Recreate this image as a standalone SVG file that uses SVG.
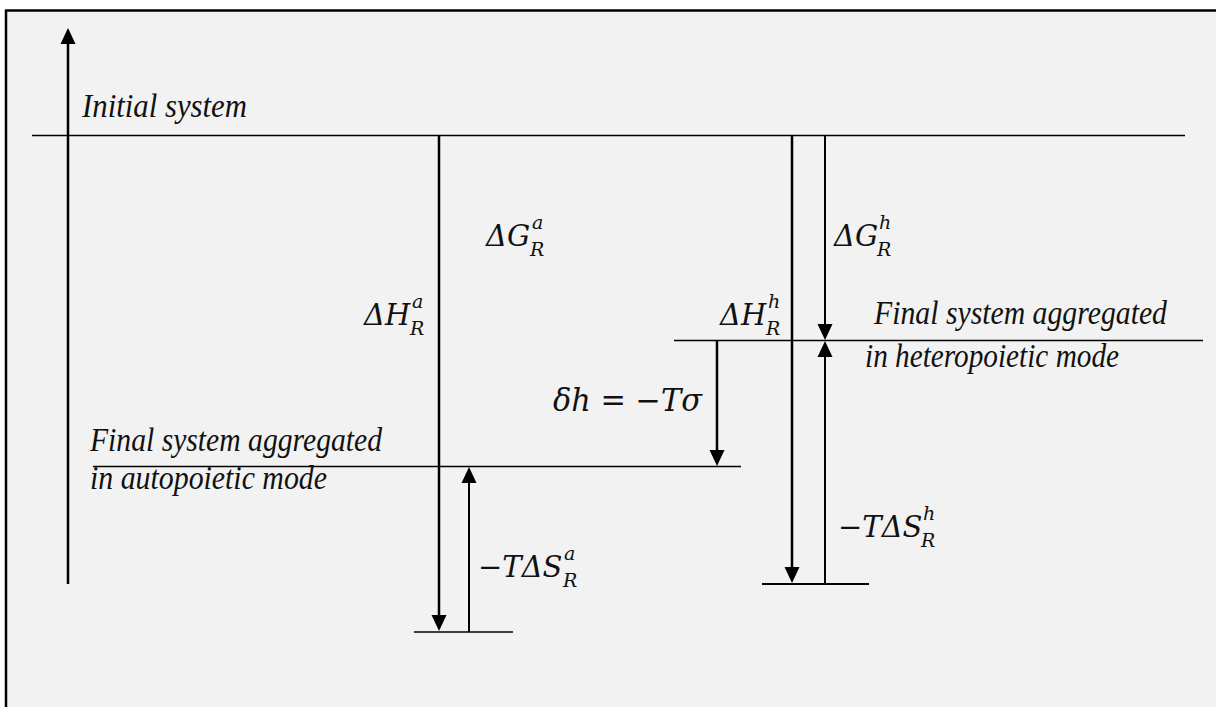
<svg xmlns="http://www.w3.org/2000/svg" width="1216" height="707" viewBox="0 0 1216 707">
<style>
.lbl{font-family:"Liberation Serif","Times New Roman",serif;font-style:italic;font-size:33px;fill:#111}
.m{font-family:"DejaVu Serif","Liberation Serif",serif;font-style:italic;font-size:29px;fill:#111}
.s{font-size:19px}
.lvl{stroke:#000;stroke-width:1.3;fill:none}
.arr{stroke:#000;stroke-width:2.5;fill:none;marker-end:url(#ah)}
.arr2{stroke:#000;stroke-width:2;fill:none;marker-end:url(#ah)}
</style>
<defs>
<marker id="ah" markerUnits="userSpaceOnUse" markerWidth="16" markerHeight="16" viewBox="0 0 16 16" refX="8" refY="8" orient="auto">
<path d="M0,0.5 L16,8 L0,15.5 Z" fill="#000"/>
</marker>
</defs>
<rect x="0" y="0" width="1216" height="707" fill="#fff"/>
<rect x="7" y="11" width="1209" height="696" fill="#f2f2f2"/>
<g id="frame" stroke="#000" stroke-width="2.5">
<line x1="5" y1="10.5" x2="1216" y2="10.5"/>
<line x1="6" y1="10" x2="6" y2="707"/>
</g>
<g id="levels">
<line class="lvl" x1="32" y1="135.5" x2="1185" y2="135.5"/>
<line class="lvl" x1="674" y1="340.5" x2="1203" y2="340.5"/>
<line class="lvl" x1="93" y1="466.5" x2="741" y2="466.5"/>
<line class="lvl" x1="414" y1="632" x2="513" y2="632"/>
<line x1="762" y1="584" x2="869" y2="584" stroke="#000" stroke-width="2"/>
</g>
<g id="connectors">
<line class="arr" x1="68" y1="584" x2="68" y2="36"/>
<line class="arr" x1="439" y1="135" x2="439" y2="623"/>
<line class="arr2" x1="469" y1="632" x2="469" y2="475"/>
<line class="arr" x1="717" y1="340" x2="717" y2="458"/>
<line class="arr" x1="792" y1="135" x2="792" y2="575"/>
<line class="arr2" x1="825" y1="136" x2="825" y2="332"/>
<line class="arr2" x1="825" y1="584" x2="825" y2="349"/>
</g>
<g id="initial">
<text class="lbl" x="82" y="117" textLength="165" lengthAdjust="spacingAndGlyphs">Initial system</text>
</g>
<g id="auto-final">
<text class="lbl" x="90" y="451" textLength="292" lengthAdjust="spacingAndGlyphs">Final system aggregated</text>
<text class="lbl" x="90" y="489" textLength="237" lengthAdjust="spacingAndGlyphs">in autopoietic mode</text>
</g>
<g id="hetero-final">
<text class="lbl" x="874" y="324" textLength="293" lengthAdjust="spacingAndGlyphs">Final system aggregated</text>
<text class="lbl" x="865" y="367" textLength="254" lengthAdjust="spacingAndGlyphs">in heteropoietic mode</text>
</g>
<g id="dGa">
<text class="m"><tspan x="486" y="246">ΔG</tspan><tspan class="s" x="532" y="229">a</tspan><tspan class="s" x="530" y="256">R</tspan></text>
</g>
<g id="dHa">
<text class="m"><tspan x="364" y="325">ΔH</tspan><tspan class="s" x="412" y="308">a</tspan><tspan class="s" x="410" y="335">R</tspan></text>
</g>
<g id="dGh">
<text class="m"><tspan x="834" y="246">ΔG</tspan><tspan class="s" x="879" y="229">h</tspan><tspan class="s" x="877" y="256">R</tspan></text>
</g>
<g id="dHh">
<text class="m"><tspan x="720" y="325">ΔH</tspan><tspan class="s" x="768" y="308">h</tspan><tspan class="s" x="766" y="335">R</tspan></text>
</g>
<g id="dh">
<text class="m" x="553" y="411" textLength="149" lengthAdjust="spacingAndGlyphs" style="font-size:31px">δh = −Tσ</text>
</g>
<g id="TdSa">
<text class="m"><tspan x="478" y="577">−TΔS</tspan><tspan class="s" x="564" y="560">a</tspan><tspan class="s" x="563" y="587">R</tspan></text>
</g>
<g id="TdSh">
<text class="m"><tspan x="838" y="537">−TΔS</tspan><tspan class="s" x="923" y="520">h</tspan><tspan class="s" x="921" y="547">R</tspan></text>
</g>
</svg>
